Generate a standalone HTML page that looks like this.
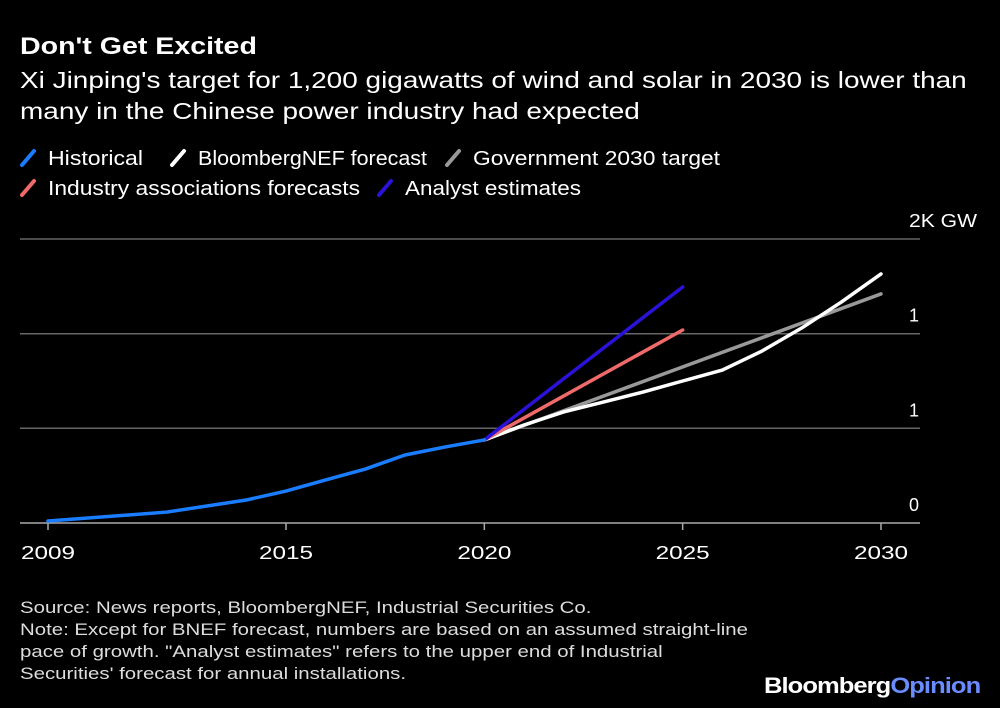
<!DOCTYPE html>
<html><head><meta charset="utf-8">
<style>
body{margin:0;background:#000;width:1000px;height:708px;overflow:hidden;font-family:"Liberation Sans",Arial,sans-serif;color:#fff;position:relative}
.t{position:absolute;white-space:nowrap;transform-origin:0 0}
</style></head><body>
<div class="t" style="left:20px;top:33px;font-size:24px;font-weight:bold;transform:scaleX(1.19)">Don't Get Excited</div>
<div class="t" style="left:20px;top:65px;font-size:23px;line-height:31px;transform:scaleX(1.215)">Xi Jinping's target for 1,200 gigawatts of wind and solar in 2030 is lower than<br>many in the Chinese power industry had expected</div>
<svg id="chart" width="1000" height="708" style="position:absolute;left:0;top:0"></svg>
<div class="t" style="left:20px;top:597px;font-size:17px;line-height:22px;color:#ddd;transform:scaleX(1.2)">Source: News reports, BloombergNEF, Industrial Securities Co.<br>Note: Except for BNEF forecast, numbers are based on an assumed straight-line<br>pace of growth. "Analyst estimates" refers to the upper end of Industrial<br>Securities' forecast for annual installations.</div>
<div class="t" style="left:764px;top:673px;font-size:22px;font-weight:bold;letter-spacing:-0.8px;transform:scaleX(1.16)">Bloomberg<span style="color:#6a8cff">Opinion</span></div>
<script>
const histYears=[2009,2012,2014,2015,2016,2017,2018,2019,2020];
const histVals=[14,77,162,225,303,380,479,535,585];
const bnefYears=[2020,2021,2022,2023,2024,2025,2026,2027,2028,2029,2030];
const bnefVals=[585,690,782,852,922,1000,1077,1211,1373,1556,1754];
const govYears=[2020,2030];const govVals=[585,1613];
const indYears=[2020,2025];const indVals=[585,1359];
const anaYears=[2020,2025];const anaVals=[585,1662];
const yTicks=[0,667,1333,2000];const yTickLabels=["0","1","1","2K GW"];
const xTicks=[2009,2015,2020,2025,2030];
const NS="http://www.w3.org/2000/svg";const svg=document.getElementById('chart');
const x=v=>48+(v-2009)*(881-48)/21;const y=v=>523-v*284/2000;
function mk(t,a){const e=document.createElementNS(NS,t);for(const k in a)e.setAttribute(k,a[k]);svg.appendChild(e);return e;}
yTicks.forEach((v,i)=>{const g=mk('line',{x1:20,x2:920,y1:y(v),y2:y(v),stroke:i==0?'#aaa':'#666','stroke-width':1.5});


const t=mk('text',{x:909,y:y(v)-12,'text-anchor':'start',fill:'#fff','font-size':18,'font-family':'Liberation Sans'});t.textContent=yTickLabels[i];
if(i==3){t.setAttribute('textLength',68);t.setAttribute('lengthAdjust','spacingAndGlyphs');}

});
xTicks.forEach(v=>{const l=mk('line',{x1:x(v),x2:x(v),y1:523,y2:530,stroke:'#aaa','stroke-width':1.5});


const t=mk('text',{x:x(v)-27,y:559,fill:'#fff','font-size':18,'font-family':'Liberation Sans',textLength:54,lengthAdjust:'spacingAndGlyphs'});t.textContent=v;

});
function line(xs,vs,c,name){const p=mk('polyline',{points:xs.map((a,i)=>x(a)+','+y(vs[i])).join(' '),fill:'none',stroke:c,'stroke-width':3.5,'stroke-linecap':'round','stroke-linejoin':'round'});

}
line(govYears,govVals,'#999','government-target-line');
line(bnefYears,bnefVals,'#fff','bnef-forecast-line');
line(indYears,indVals,'#f06a6a','industry-forecast-line');
line(anaYears,anaVals,'#2a12d8','analyst-estimate-line');
line(histYears,histVals,'#1a7dff','historical-line');
const leg=[['Historical','#1a7dff',22,158,48,95],['BloombergNEF forecast','#fff',172,158,198,229],['Government 2030 target','#999',447,158,473,247],['Industry associations forecasts','#f06a6a',22,188,48,312],['Analyst estimates','#2a12d8',379,188,405,176]];
leg.forEach(l=>{const m=mk('line',{x1:l[2],y1:l[3]+7,x2:l[2]+12,y2:l[3]-7,stroke:l[1],'stroke-width':4,'stroke-linecap':'round'});


const t=mk('text',{x:l[4],y:l[3]+7,fill:'#fff','font-size':20,'font-family':'Liberation Sans',textLength:l[5],lengthAdjust:'spacingAndGlyphs'});t.textContent=l[0];

});
</script>
</body></html>
